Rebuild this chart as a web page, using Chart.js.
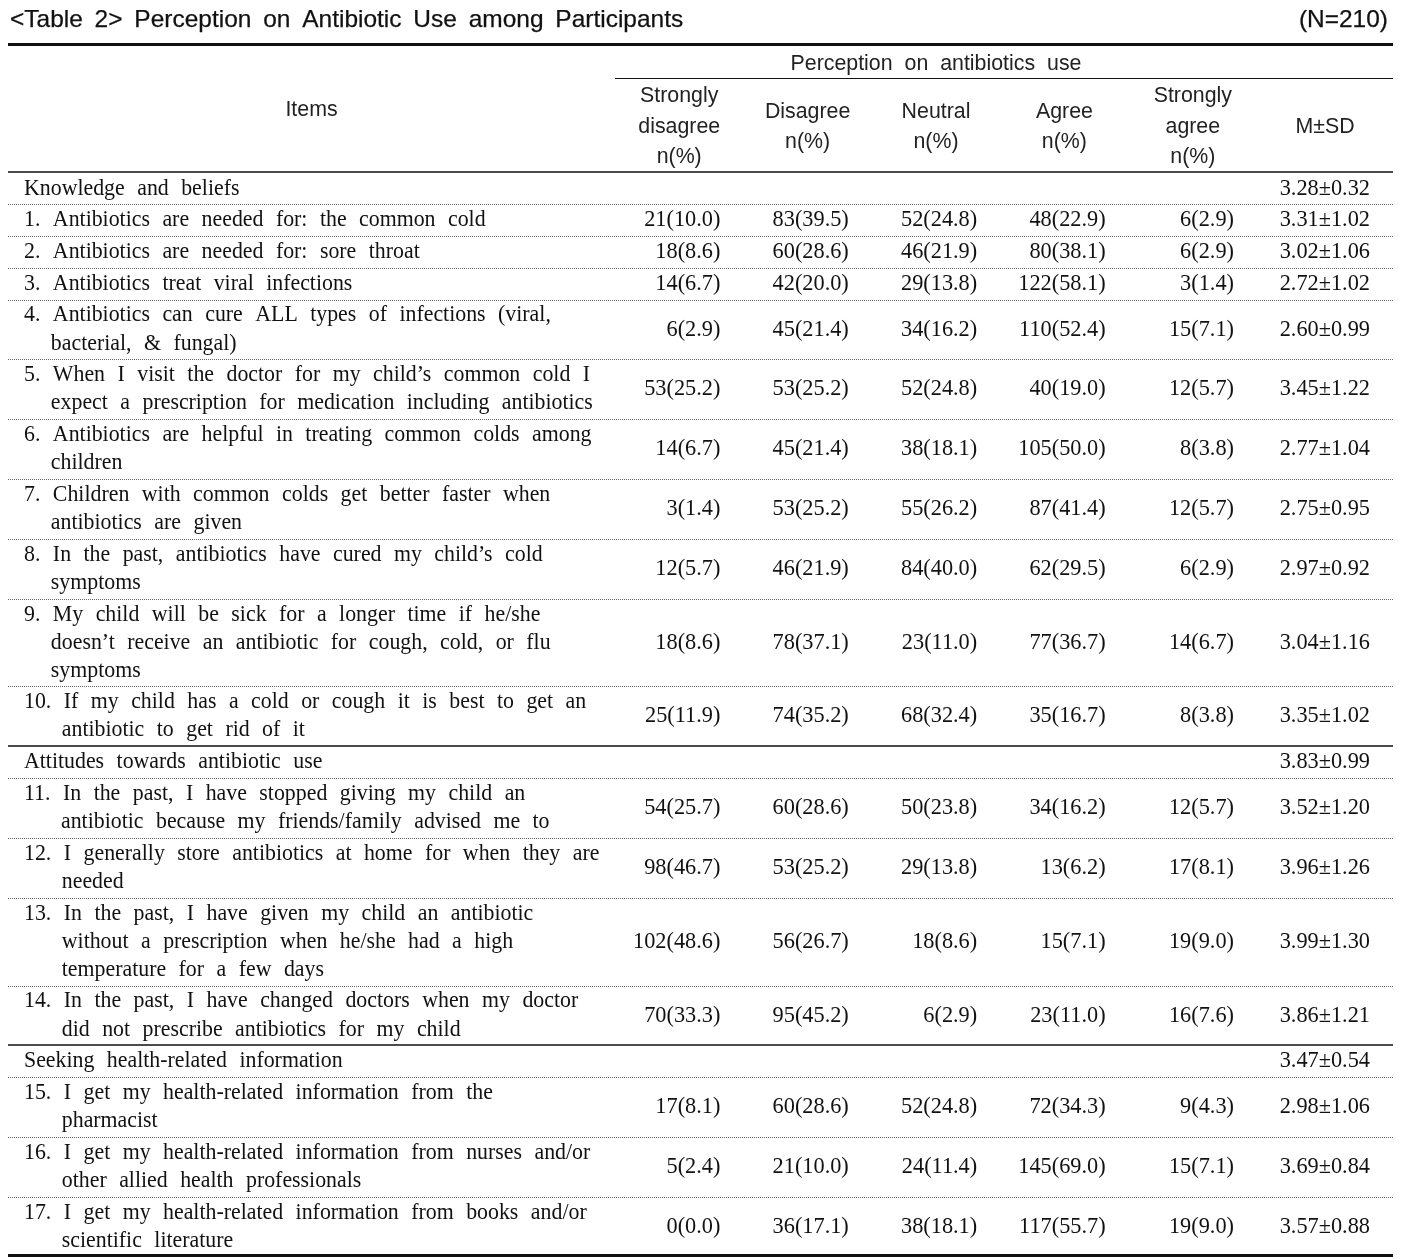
<!DOCTYPE html>
<html>
<head>
<meta charset="utf-8">
<title>Table 2. Perception on Antibiotic Use among Participants</title>
<script src="https://cdn.jsdelivr.net/npm/chart.js@4.4.1/dist/chart.umd.min.js"></script>
<style>
html, body { margin: 0; padding: 0; background: #fff; }
#wrap { position: relative; width: 1413px; height: 1259px; }
</style>
</head>
<body>
<div id="wrap"><canvas id="tableChart"></canvas></div>
<script>
const titleText = '<Table 2> Perception on Antibiotic Use among Participants';
const sampleText = '(N=210)';
const groupHeader = 'Perception on antibiotics use';
const itemsHeader = 'Items';
const categories = [
    ['Strongly', 'disagree', 'n(%)'],
    ['Disagree', 'n(%)'],
    ['Neutral', 'n(%)'],
    ['Agree', 'n(%)'],
    ['Strongly', 'agree', 'n(%)']
];
const statHeader = 'M±SD';

const sections = ['Knowledge and beliefs', 'Attitudes towards antibiotic use', 'Seeking health-related information'];
const sectionStats = ['3.28±0.32', '3.83±0.99', '3.47±0.54'];
const sectionOf = [0, 0, 0, 0, 0, 0, 0, 0, 0, 0, 1, 1, 1, 1, 2, 2, 2];

const items = [
    ['1. Antibiotics are needed for: the common cold'],
    ['2. Antibiotics are needed for: sore throat'],
    ['3. Antibiotics treat viral infections'],
    ['4. Antibiotics can cure ALL types of infections (viral,', 'bacterial, & fungal)'],
    ['5. When I visit the doctor for my child\u2019s common cold I', 'expect a prescription for medication including antibiotics'],
    ['6. Antibiotics are helpful in treating common colds among', 'children'],
    ['7. Children with common colds get better faster when', 'antibiotics are given'],
    ['8. In the past, antibiotics have cured my child\u2019s cold', 'symptoms'],
    ['9. My child will be sick for a longer time if he/she', 'doesn\u2019t receive an antibiotic for cough, cold, or flu', 'symptoms'],
    ['10. If my child has a cold or cough it is best to get an', 'antibiotic to get rid of it'],
    ['11. In the past, I have stopped giving my child an', 'antibiotic because my friends/family advised me to'],
    ['12. I generally store antibiotics at home for when they are', 'needed'],
    ['13. In the past, I have given my child an antibiotic', 'without a prescription when he/she had a high', 'temperature for a few days'],
    ['14. In the past, I have changed doctors when my doctor', 'did not prescribe antibiotics for my child'],
    ['15. I get my health-related information from the', 'pharmacist'],
    ['16. I get my health-related information from nurses and/or', 'other allied health professionals'],
    ['17. I get my health-related information from books and/or', 'scientific literature']
];

const stronglyDisagreeN = [21, 18, 14, 6, 53, 14, 3, 12, 18, 25, 54, 98, 102, 70, 17, 5, 0];
const stronglyDisagreeP = [10.0, 8.6, 6.7, 2.9, 25.2, 6.7, 1.4, 5.7, 8.6, 11.9, 25.7, 46.7, 48.6, 33.3, 8.1, 2.4, 0.0];
const disagreeN = [83, 60, 42, 45, 53, 45, 53, 46, 78, 74, 60, 53, 56, 95, 60, 21, 36];
const disagreeP = [39.5, 28.6, 20.0, 21.4, 25.2, 21.4, 25.2, 21.9, 37.1, 35.2, 28.6, 25.2, 26.7, 45.2, 28.6, 10.0, 17.1];
const neutralN = [52, 46, 29, 34, 52, 38, 55, 84, 23, 68, 50, 29, 18, 6, 52, 24, 38];
const neutralP = [24.8, 21.9, 13.8, 16.2, 24.8, 18.1, 26.2, 40.0, 11.0, 32.4, 23.8, 13.8, 8.6, 2.9, 24.8, 11.4, 18.1];
const agreeN = [48, 80, 122, 110, 40, 105, 87, 62, 77, 35, 34, 13, 15, 23, 72, 145, 117];
const agreeP = [22.9, 38.1, 58.1, 52.4, 19.0, 50.0, 41.4, 29.5, 36.7, 16.7, 16.2, 6.2, 7.1, 11.0, 34.3, 69.0, 55.7];
const stronglyAgreeN = [6, 6, 3, 15, 12, 8, 12, 6, 14, 8, 12, 17, 19, 16, 9, 15, 19];
const stronglyAgreeP = [2.9, 2.9, 1.4, 7.1, 5.7, 3.8, 5.7, 2.9, 6.7, 3.8, 5.7, 8.1, 9.0, 7.6, 4.3, 7.1, 9.0];
const means = [3.31, 3.02, 2.72, 2.60, 3.45, 2.77, 2.75, 2.97, 3.04, 3.35, 3.52, 3.96, 3.99, 3.86, 2.98, 3.69, 3.57];
const sds = [1.02, 1.06, 1.02, 0.99, 1.22, 1.04, 0.95, 0.92, 1.16, 1.02, 1.20, 1.26, 1.30, 1.21, 1.06, 0.84, 0.88];

const countCols = [
    [stronglyDisagreeN, stronglyDisagreeP],
    [disagreeN, disagreeP],
    [neutralN, neutralP],
    [agreeN, agreeP],
    [stronglyAgreeN, stronglyAgreeP]
];

// ---- layout (pixels on x, text lines on y) ----
const PAGE_W = 1413, PAGE_H = 1259;
const LINE_PX = 28.08;       // one text line
const FIRST_LINE_PX = 188.5; // first body line
const GAP = 0.13;            // extra space between rows, in lines
const LEFT = 8, RIGHT = 1393, TEXT_X = 24, INDENT_TRIM = 2;
const CAT_LEFT = 615, CAT_W = 128.4, STAT_LEFT = 1257, CELL_PAD = 23;
const HEAD = { title: -5.98, topRule: -5.13, group: -4.45, groupRule: -3.93, colMid: -2.2, colStep: 1.086, bottomRule: -0.59 };

const SERIF = '"Liberation Serif", "Times New Roman", serif';
const SANS = '"Liberation Sans", Arial, sans-serif';
const bodyFont = { size: 23, family: SERIF, sx: 0.95, extra: 7 };
const numFont = { size: 23, family: SERIF, sx: 0.97, extra: 0 };
const headFont = { size: 22, family: SANS, sx: 0.97, extra: 6, color: '#222' };
const titleFont = { size: 24, family: SANS, sx: 1.02, extra: 5, stroke: 0.25 };

// build rows
const rows = [];
sections.forEach((s, si) => {
    rows.push({ kind: 'section', lines: [s], stat: sectionStats[si] });
    items.forEach((it, i) => {
        if (sectionOf[i] === si) rows.push({ kind: 'item', lines: it, idx: i });
    });
});
let lineCount = 0;
rows.forEach((r, k) => {
    r.top = lineCount + k * GAP;
    r.center = r.top + (r.lines.length - 1) / 2;
    lineCount += r.lines.length;
});
const lastRow = rows[rows.length - 1];
const lastLine = lastRow.top + lastRow.lines.length - 1;

function colRight(c) {
    return c < 5 ? CAT_LEFT + CAT_W * (c + 1) - CELL_PAD : RIGHT - CELL_PAD;
}

// datasets: one per answer column + one for M±SD
const datasets = countCols.map((col, c) => ({
    label: categories[c].join(' '),
    data: rows.filter(r => r.kind === 'item').map(r => ({
        x: colRight(c),
        y: r.center,
        text: col[0][r.idx] + '(' + col[1][r.idx].toFixed(1) + ')'
    })),
    pointRadius: 0
}));
datasets.push({
    label: statHeader,
    data: rows.map(r => ({
        x: colRight(5),
        y: r.center,
        text: r.kind === 'section' ? r.stat : means[r.idx].toFixed(2) + '±' + sds[r.idx].toFixed(2)
    })),
    pointRadius: 0
});

// text helpers
function setFont(ctx, f) {
    ctx.font = f.size + 'px ' + f.family;
}
function textWidth(ctx, text, f) {
    setFont(ctx, f);
    const words = text.split(' ');
    const space = ctx.measureText(' ').width * f.sx + f.extra;
    let w = 0;
    words.forEach((wd, i) => {
        w += ctx.measureText(wd).width * f.sx;
        if (i < words.length - 1) w += space;
    });
    return w;
}
function drawText(ctx, text, x, y, f, align) {
    setFont(ctx, f);
    const total = textWidth(ctx, text, f);
    let cx = x;
    if (align === 'center') cx = x - total / 2;
    else if (align === 'right') cx = x - total;
    const space = ctx.measureText(' ').width * f.sx + f.extra;
    ctx.textBaseline = 'middle';
    ctx.textAlign = 'left';
    text.split(' ').forEach(wd => {
        ctx.save();
        if (f.color) ctx.fillStyle = f.color;
        ctx.translate(cx, y);
        ctx.scale(f.sx, 1);
        ctx.fillText(wd, 0, 0);
        if (f.stroke) {
            ctx.lineWidth = f.stroke;
            ctx.strokeStyle = ctx.fillStyle;
            ctx.strokeText(wd, 0, 0);
        }
        ctx.restore();
        cx += ctx.measureText(wd).width * f.sx + space;
    });
}
function hLine(ctx, x0, x1, y, width, dashed) {
    ctx.save();
    ctx.beginPath();
    ctx.lineWidth = width;
    ctx.strokeStyle = dashed ? '#666' : '#111';
    if (dashed) ctx.setLineDash([1, 1]);
    const yy = width % 2 === 1 ? Math.round(y) + 0.5 : Math.round(y);
    ctx.moveTo(x0, yy);
    ctx.lineTo(x1, yy);
    ctx.stroke();
    ctx.restore();
}

const tablePlugin = {
    id: 'tablePlugin',
    afterDatasetsDraw(chart) {
        const ctx = chart.ctx;
        const ys = chart.scales.y;
        const Y = v => ys.getPixelForValue(v);
        ctx.save();
        ctx.fillStyle = '#111';

        // title and header
        drawText(ctx, titleText, LEFT + 2, Y(HEAD.title), titleFont, 'left');
        drawText(ctx, sampleText, RIGHT - 5, Y(HEAD.title), titleFont, 'right');
        hLine(ctx, LEFT, RIGHT, Y(HEAD.topRule), 3);
        drawText(ctx, groupHeader, CAT_LEFT + CAT_W * 2.5, Y(HEAD.group), headFont, 'center');
        hLine(ctx, CAT_LEFT, RIGHT, Y(HEAD.groupRule), 1);
        drawText(ctx, itemsHeader, (LEFT + CAT_LEFT) / 2, Y((HEAD.topRule + HEAD.bottomRule) / 2 + 0.05), headFont, 'center');
        categories.forEach((lines, c) => {
            lines.forEach((ln, i) => {
                const yv = HEAD.colMid + (i - (lines.length - 1) / 2) * HEAD.colStep;
                drawText(ctx, ln, CAT_LEFT + CAT_W * (c + 0.5), Y(yv), headFont, 'center');
            });
        });
        drawText(ctx, statHeader, (STAT_LEFT + RIGHT) / 2, Y(HEAD.colMid), headFont, 'center');
        hLine(ctx, LEFT, RIGHT, Y(HEAD.bottomRule), 1.5);

        // row labels and separators
        rows.forEach((r, k) => {
            if (k > 0) {
                const sepY = Y(r.top - (1 + GAP) / 2);
                if (r.kind === 'section') hLine(ctx, LEFT, RIGHT, sepY, 1.5);
                else hLine(ctx, LEFT, RIGHT, sepY, 1, true);
            }
            if (r.kind === 'section') {
                drawText(ctx, r.lines[0], TEXT_X, Y(r.top), bodyFont, 'left');
            } else {
                const num = r.lines[0].split(' ')[0];
                const indent = textWidth(ctx, num + ' ', bodyFont) - INDENT_TRIM;
                r.lines.forEach((ln, i) => {
                    drawText(ctx, ln, i === 0 ? TEXT_X : TEXT_X + indent, Y(r.top + i), bodyFont, 'left');
                });
            }
        });
        hLine(ctx, LEFT, RIGHT, Y(lastLine + 0.5), 3);

        // cell values, placed by the chart's own points
        chart.data.datasets.forEach((ds, i) => {
            chart.getDatasetMeta(i).data.forEach((pt, j) => {
                drawText(ctx, ds.data[j].text, pt.x, pt.y, numFont, 'right');
            });
        });
        ctx.restore();
    }
};

document.addEventListener('DOMContentLoaded', () => {
    const ctx = document.getElementById('tableChart').getContext('2d');
    new Chart(ctx, {
        type: 'scatter',
        data: { datasets: datasets },
        options: {
            responsive: true,
            maintainAspectRatio: false,
            animation: false,
            events: [],
            layout: { padding: 0 },
            plugins: { legend: { display: false }, tooltip: { enabled: false } },
            scales: {
                x: { type: 'linear', display: false, min: 0, max: PAGE_W },
                y: {
                    type: 'linear', display: false, reverse: true,
                    min: -FIRST_LINE_PX / LINE_PX,
                    max: (PAGE_H - FIRST_LINE_PX) / LINE_PX
                }
            }
        },
        plugins: [tablePlugin]
    });
});
</script>
</body>
</html>
